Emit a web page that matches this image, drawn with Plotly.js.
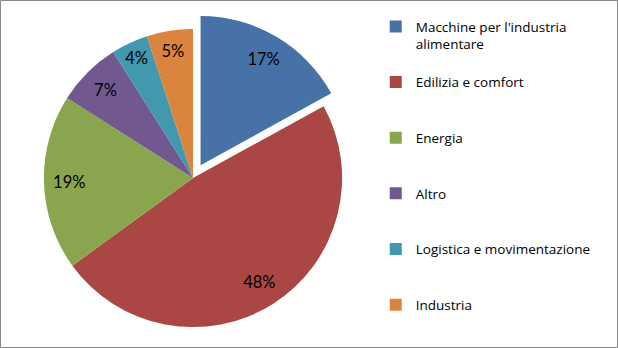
<!DOCTYPE html>
<html><head><meta charset="utf-8">
<script src="https://cdn.plot.ly/plotly-3.0.1.min.js"></script>
<style>html,body{margin:0;padding:0;background:#fff}</style>
</head><body><div id="chart" style="width:618px;height:348px"></div>
<script>
const categories = ["Macchine per l'industria alimentare","Edilizia e comfort","Energia","Altro","Logistica e movimentazione","Industria"];
const legendLabels = ["Macchine per l'industria<br>alimentare<br> ","Edilizia e comfort<br> <br> ","Energia<br> <br> ","Altro<br> <br> ","Logistica e movimentazione<br> <br> ","Industria"];
const values = [17,48,19,7,4,5];
const colors = ["#4672A8","#AA4644","#89A54E","#71588F","#4198AF","#DB843D"];
const pulls = [0.1,0,0,0,0,0];
const font = {family:"'Open Sans', Lato, sans-serif", size:13.5, color:"#000"};
const dom = {x:[0.0469,0.5777], y:[0.0172,0.9598]};
const traces = [
 {type:'pie', labels:legendLabels, values:values, sort:false, direction:'clockwise', rotation:0,
  marker:{colors:colors, line:{width:0}}, pull:pulls, textinfo:'none', hoverinfo:'none', domain:dom},
 {type:'pie', labels:legendLabels, values:values, sort:false, direction:'clockwise', rotation:0, hole:0.66,
  marker:{colors:colors.map(()=> 'rgba(0,0,0,0)'), line:{width:0}}, pull:pulls, textinfo:'percent',
  textposition:'inside', insidetextorientation:'horizontal', texttemplate:'%{percent:.0%}',
  textfont:{family:"Lato, sans-serif",size:16.5,color:'#000'}, showlegend:false, hoverinfo:'none', domain:dom}
];
const layout = {
 width:618, height:348, margin:{l:0,r:0,t:0,b:0}, paper_bgcolor:'#fff', font:font,
 showlegend:true,
 legend:{x:0.608, xanchor:'left', y:0.968, yanchor:'top', valign:'top', font:font, bgcolor:'rgba(0,0,0,0)'},
 shapes:[{type:'rect', xref:'paper', yref:'paper', x0:0.0008, x1:0.9992, y0:0.0014, y1:0.9986, line:{color:'#868686', width:1}}]
};
Plotly.newPlot('chart', traces, layout, {displayModeBar:false, staticPlot:true});
</script></body></html>
